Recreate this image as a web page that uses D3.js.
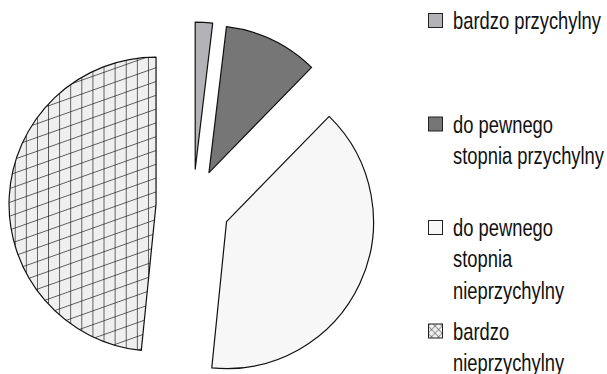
<!DOCTYPE html>
<html lang="pl">
<head>
  <meta charset="utf-8">
  <title>Pie</title>
  <script src="https://cdn.jsdelivr.net/npm/d3@7"></script>
  <style>
    body { margin: 0; background: #fff; }
    text { font-family: "Liberation Sans", Arial, sans-serif; }
  </style>
</head>
<body>
  <script type="text/javascript">
    // data (percent)
    const categories = ["bardzo przychylny", "do pewnego stopnia przychylny", "do pewnego stopnia nieprzychylny", "bardzo nieprzychylny"]
    const values = [1.9, 10.4, 39.3, 48.4]
    const legendLines = [
      ["bardzo przychylny"],
      ["do pewnego", "stopnia przychylny"],
      ["do pewnego", "stopnia", "nieprzychylny"],
      ["bardzo", "nieprzychylny"]
    ]
    const fills = ["#b3b3b7", "#767676", "#f7f7f7", "url(#hatch)"]
    const legendFills = ["#b3b3b7", "#767676", "#f7f7f7", "url(#hatchSmall)"]

    const width = 607, height = 374
    const cx = 193, cy = 206, radius = 147, explode = 37

    const svg = d3.select("body").append("svg")
      .attr("width", width)
      .attr("height", height)

    const defs = svg.append("defs")
    const pw = 11.1, ph = 13.8
    const hatch = defs.append("pattern")
      .attr("id", "hatch")
      .attr("patternUnits", "userSpaceOnUse")
      .attr("width", pw)
      .attr("height", ph)
      .attr("patternTransform", "translate(3,0) skewY(-19.5)")
    hatch.append("rect").attr("width", pw).attr("height", ph).attr("fill", "#efefef")
    hatch.append("line").attr("x1", 0).attr("y1", 0).attr("x2", 0).attr("y2", ph)
      .attr("stroke", "#333").attr("stroke-width", 1.5)
    hatch.append("line").attr("x1", 0).attr("y1", 0).attr("x2", pw).attr("y2", 0)
      .attr("stroke", "#111").attr("stroke-width", 1.3)

    const hs = defs.append("pattern")
      .attr("id", "hatchSmall")
      .attr("patternUnits", "userSpaceOnUse")
      .attr("width", 5)
      .attr("height", 5)
      .attr("patternTransform", "rotate(45)")
    hs.append("rect").attr("width", 5).attr("height", 5).attr("fill", "#f0f0f0")
    hs.append("line").attr("x1", 0).attr("y1", 0).attr("x2", 5).attr("y2", 0).attr("stroke", "#222").attr("stroke-width", 0.8)
    hs.append("line").attr("x1", 0).attr("y1", 0).attr("x2", 0).attr("y2", 5).attr("stroke", "#222").attr("stroke-width", 0.8)

    const pie = d3.pie().sort(null).value(d => d)
    const arcs = pie(values)

    const arc = d3.arc().innerRadius(0).outerRadius(radius)

    svg.append("g")
      .attr("transform", `translate(${cx},${cy})`)
      .selectAll("path")
      .data(arcs)
      .join("path")
      .attr("transform", d => {
        const a = (d.startAngle + d.endAngle) / 2
        return `translate(${explode * Math.sin(a)},${-explode * Math.cos(a)})`
      })
      .attr("d", arc)
      .attr("fill", (d, i) => fills[i])
      .attr("stroke", "#111")
      .attr("stroke-width", 1.2)
      .attr("stroke-linejoin", "round")

    // legend
    const lx = 428, lTop = 29, lStep = 103.5, lineH = 31.5
    const legend = svg.append("g")
      .selectAll("g")
      .data(categories)
      .join("g")
      .attr("transform", (d, i) => `translate(${lx},${lTop + i * lStep})`)

    legend.append("rect")
      .attr("x", 0.5)
      .attr("y", -15.5)
      .attr("width", 14)
      .attr("height", 14)
      .attr("fill", (d, i) => legendFills[i])
      .attr("stroke", "#222")
      .attr("stroke-width", 1)

    // condensed look: regular face squeezed horizontally
    legend.append("text")
      .attr("transform", "translate(25,0) scale(0.765,1)")
      .attr("font-size", 24)
      .attr("fill", "#111")
      .selectAll("tspan")
      .data((d, i) => legendLines[i])
      .join("tspan")
      .attr("x", 0)
      .attr("y", (d, j) => j * lineH)
      .text(d => d)
  </script>
</body>
</html>
